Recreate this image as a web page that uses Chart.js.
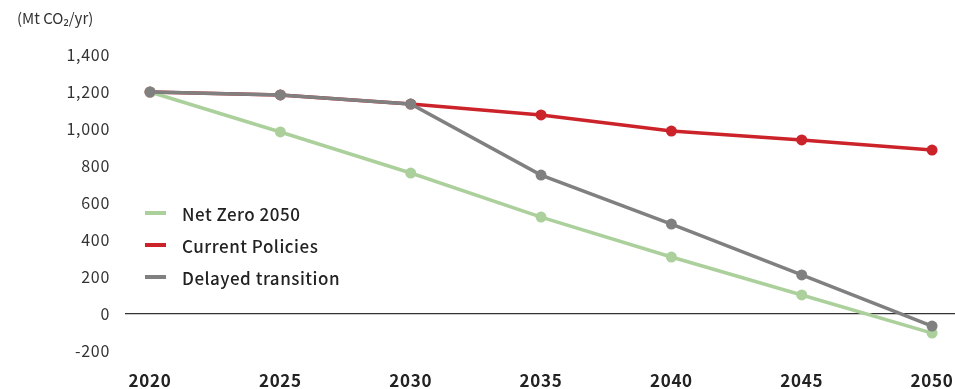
<!DOCTYPE html>
<html>
<head>
<meta charset="utf-8">
<script src="https://cdn.jsdelivr.net/npm/chart.js@4/dist/chart.umd.min.js"></script>
<style>
  html, body { margin: 0; padding: 0; background: #fff; }
  #wrap { position: relative; width: 955px; height: 389px; font-family: "Noto Sans CJK JP", "Noto Sans", sans-serif; color: #333; }
  #unit { position: absolute; left: 17px; top: 7px; font-size: 15px; }
  #legend { position: absolute; left: 145px; top: 197px; }
  #legend .row { display: flex; align-items: center; height: 32px; font-size: 17px; font-weight: 500; letter-spacing: 0.5px; color: #222; }
  #legend .swatch { width: 21px; height: 4px; margin-right: 16px; }
</style>
</head>
<body>
<div id="wrap">
  <canvas id="emissionsChart" width="955" height="389"></canvas>
  <div id="unit">(Mt CO₂/yr)</div>
  <div id="legend"></div>
</div>
<script>
const years = [2020, 2025, 2030, 2035, 2040, 2045, 2050];
const netZero = [1200, 984, 762, 524, 308, 103, -103];
const currentPolicies = [1200, 1184, 1135, 1076, 989, 941, 886];
const delayedTransition = [1200, 1184, 1135, 751, 486, 211, -65];
const yTicks = [-200, 0, 200, 400, 600, 800, 1000, 1200, 1400];

const seriesDefs = [
  { label: "Net Zero 2050", values: netZero, color: "#acd09c", order: 1 },
  { label: "Current Policies", values: currentPolicies, color: "#cc2229", order: 1 },
  { label: "Delayed transition", values: delayedTransition, color: "#808080", order: 0 }
];

const datasets = seriesDefs.map(s => ({
  label: s.label,
  data: years.map((y, i) => ({ x: y, y: s.values[i] })),
  borderColor: s.color,
  backgroundColor: s.color,
  pointBackgroundColor: s.color,
  pointBorderWidth: 0,
  pointRadius: 5.5,
  borderWidth: 3.5,
  order: s.order,
  tension: 0
}));

// the axis text is set a little wider than the font's default
const spacing = {
  id: "spacing",
  beforeUpdate: chart => { chart.ctx.letterSpacing = "0.7px"; },
  beforeDraw: chart => { chart.ctx.letterSpacing = "0.7px"; }
};

const ctx = document.getElementById("emissionsChart").getContext("2d");
new Chart(ctx, {
  type: "line",
  data: { datasets },
  plugins: [spacing],
  options: {
    responsive: false,
    animation: false,
    layout: { autoPadding: false, padding: { top: 55, right: 0, bottom: 0, left: 0 } },
    plugins: { legend: { display: false }, tooltip: { enabled: false } },
    scales: {
      x: {
        type: "linear",
        min: 2019.04,
        max: 2050.88,
        afterBuildTicks: scale => { scale.ticks = years.map(v => ({ value: v })); },
        afterFit: scale => {
          scale.height = 38;
          // let the plot run to the right edge, the last year label still fits
          scale.paddingLeft = 0;
          scale.paddingRight = 0;
        },
        grid: { display: false, drawTicks: false },
        border: { display: false },
        ticks: {
          padding: 19,
          maxRotation: 0,
          color: "#222",
          font: { family: "Noto Sans CJK JP", size: 17, weight: "bold" },
          callback: v => String(v)
        }
      },
      y: {
        min: -200,
        max: 1400,
        afterBuildTicks: scale => { scale.ticks = yTicks.map(v => ({ value: v })); },
        afterFit: scale => { scale.width = 125; },
        border: { display: false },
        grid: {
          drawTicks: false,
          lineWidth: 1.2,
          color: c => c.tick && c.tick.value === 0 ? "#333" : "rgba(0,0,0,0)"
        },
        ticks: {
          padding: 15,
          color: "#333",
          font: { family: "Noto Sans CJK JP", size: 16 },
          callback: v => v.toLocaleString("en-US")
        }
      }
    }
  }
});

// legend drawn as html, placed inside the plot
const legendEl = document.getElementById("legend");
seriesDefs.forEach(s => {
  const row = document.createElement("div");
  row.className = "row";
  row.innerHTML = `<span class="swatch" style="background:${s.color}"></span>${s.label}`;
  legendEl.appendChild(row);
});
</script>
</body>
</html>
